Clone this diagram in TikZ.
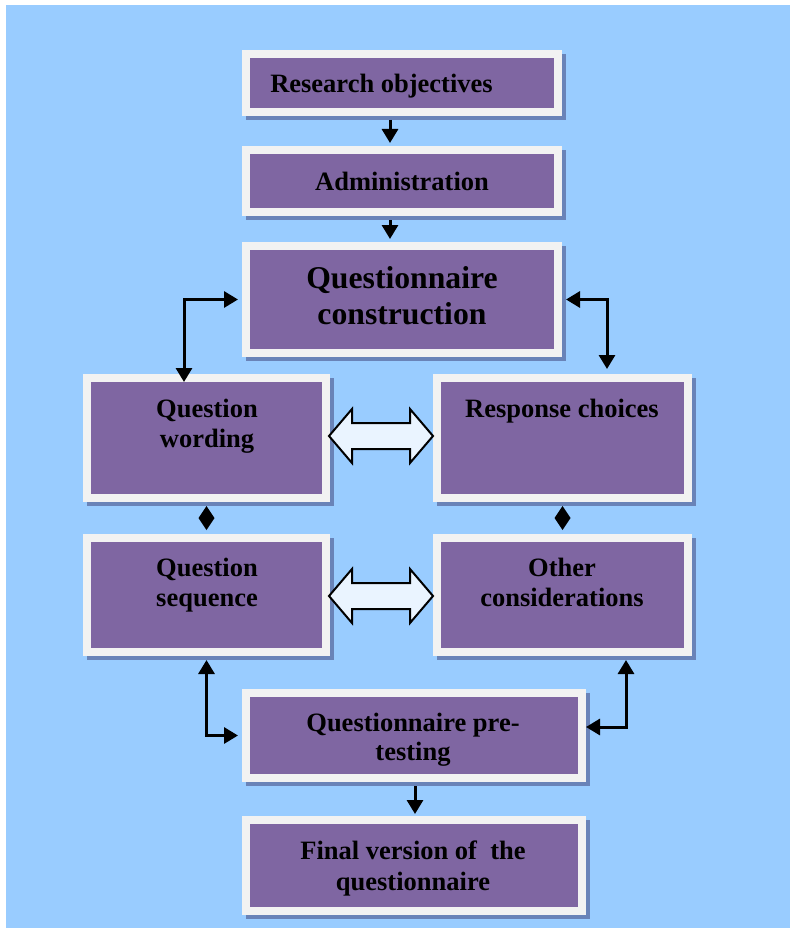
\documentclass[tikz,border=0pt]{standalone}
\usepackage{fontspec}
\setmainfont{Liberation Serif}
\usetikzlibrary{arrows.meta,shadows,calc}
\definecolor{bgblue}{RGB}{153,204,255}
\definecolor{framegray}{RGB}{242,242,242}
\definecolor{boxpurple}{RGB}{127,102,162}
\definecolor{shadowblue}{RGB}{105,131,184}
\definecolor{arrowfill}{RGB}{234,244,255}
\begin{document}
\begin{tikzpicture}[x=1pt,y=-1pt,
  box/.style={draw=framegray, line width=8pt, fill=boxpurple, inner sep=0pt,
    drop shadow={shadow xshift=4pt, shadow yshift=-4pt, fill=shadowblue,
      draw=shadowblue, line width=8pt, opacity=1}},
  lbl/.style={font=\fontsize{26.5}{30}\selectfont\bfseries, align=center,
    inner sep=0pt, anchor=north, text=black},
  arr/.style={line width=3pt, -{Triangle[length=14pt,width=16pt]}},
  dbl/.style={line width=3pt,
    {Triangle[length=14pt,width=16pt]}-{Triangle[length=14pt,width=16pt]}},
  blockarr/.style={draw=black, line width=2pt, fill=arrowfill, line join=miter}]

\useasboundingbox (0,0) rectangle (790,928);
\fill[white] (0,0) rectangle (790,928);
\fill[bgblue] (6,5) rectangle (790,928);

% boxes
\node[box, minimum width=312pt, minimum height=58pt]  (ro)  at (402,83)    {};
\node[box, minimum width=312pt, minimum height=62pt]  (adm) at (402,181)   {};
\node[box, minimum width=312pt, minimum height=107pt] (qc)  at (402,299.5) {};
\node[box, minimum width=239pt, minimum height=120pt] (qw)  at (206.5,438) {};
\node[box, minimum width=251pt, minimum height=120pt] (rc)  at (562.5,438) {};
\node[box, minimum width=239pt, minimum height=114pt] (qs)  at (206.5,595) {};
\node[box, minimum width=251pt, minimum height=114pt] (oc)  at (562.5,595) {};
\node[box, minimum width=336pt, minimum height=85pt]  (pt)  at (414,735.5) {};
\node[box, minimum width=336pt, minimum height=91pt]  (fv)  at (414,865.5) {};

% labels
\node[lbl] (ro-t)  at (381.5,74) {Research objectives};
\node[lbl] (adm-t) at (402,172)  {Administration};
\node[lbl, font=\fontsize{31.7}{36}\selectfont\bfseries] (qc-t) at (402,266.5)
  {Questionnaire\\construction};
\node[lbl] (qw-t)  at (207,399)  {Question\\wording};
\node[lbl] (rc-t)  at (562,399)  {Response choices};
\node[lbl] (qs-t)  at (207,558)  {Question\\sequence};
\node[lbl] (oc-t)  at (562,558)  {Other\\considerations};
\node[lbl, font=\fontsize{26.5}{28.5}\selectfont\bfseries] (pt-t) at (413,713)
  {Questionnaire pre-\\testing};
\node[lbl, font=\fontsize{26.5}{31}\selectfont\bfseries] (fv-t) at (413,841)
  {Final version of\ \ the\\questionnaire};

% straight flow
\draw[arr, shorten <=4pt, shorten >=3pt] ([xshift=-12pt]ro.south) -- ([xshift=-12pt]adm.north);
\draw[arr, shorten <=4pt, shorten >=3pt] ([xshift=-12pt]adm.south) -- ([xshift=-12pt]qc.north);
\draw[arr, shorten <=4pt, shorten >=2pt] ([xshift=1pt]pt.south) -- ([xshift=1pt]fv.north);

% two-way elbow links
\draw[dbl, shorten <=4pt, shorten >=-8pt] (qc.west) -| ([xshift=-22.5pt]qw.north);
\draw[dbl, shorten <=4pt, shorten >=5pt] (qc.east) -| ([xshift=44.5pt]rc.north);
\draw[dbl, shorten <=4pt, shorten >=4pt] (qs.south) |- (pt.west);
\draw[dbl, shorten <=4pt] ([xshift=63.5pt]oc.south) |- ([yshift=8.5pt]pt.east);

% diamond links between rows
\fill let \p1=([yshift=-4pt]qw.south), \p2=([yshift=4pt]qs.north) in
  (\p1) -- (\x1+8pt,{(\y1+\y2)/2}) -- (\p2) -- (\x1-8pt,{(\y1+\y2)/2}) -- cycle;
\fill let \p1=([yshift=-4pt]rc.south), \p2=([yshift=4pt]oc.north) in
  (\p1) -- (\x1+8pt,{(\y1+\y2)/2}) -- (\p2) -- (\x1-8pt,{(\y1+\y2)/2}) -- cycle;

% block double arrows
\draw[blockarr] let \p1=([xshift=-1pt,yshift=2pt]qw.east), \p2=([yshift=2pt]rc.west) in
  (\p1) -- (\x1+23pt,\y1+27pt) -- (\x1+23pt,\y1+13pt) -- (\x2-23pt,\y1+13pt)
  -- (\x2-23pt,\y1+27pt) -- (\p2) -- (\x2-23pt,\y1-27pt) -- (\x2-23pt,\y1-13pt)
  -- (\x1+23pt,\y1-13pt) -- (\x1+23pt,\y1-27pt) -- cycle;
\draw[blockarr] let \p1=([xshift=-1pt,yshift=-1pt]qs.east), \p2=([yshift=-1pt]oc.west) in
  (\p1) -- (\x1+23pt,\y1+27pt) -- (\x1+23pt,\y1+13pt) -- (\x2-23pt,\y1+13pt)
  -- (\x2-23pt,\y1+27pt) -- (\p2) -- (\x2-23pt,\y1-27pt) -- (\x2-23pt,\y1-13pt)
  -- (\x1+23pt,\y1-13pt) -- (\x1+23pt,\y1-27pt) -- cycle;

\end{tikzpicture}
\end{document}
